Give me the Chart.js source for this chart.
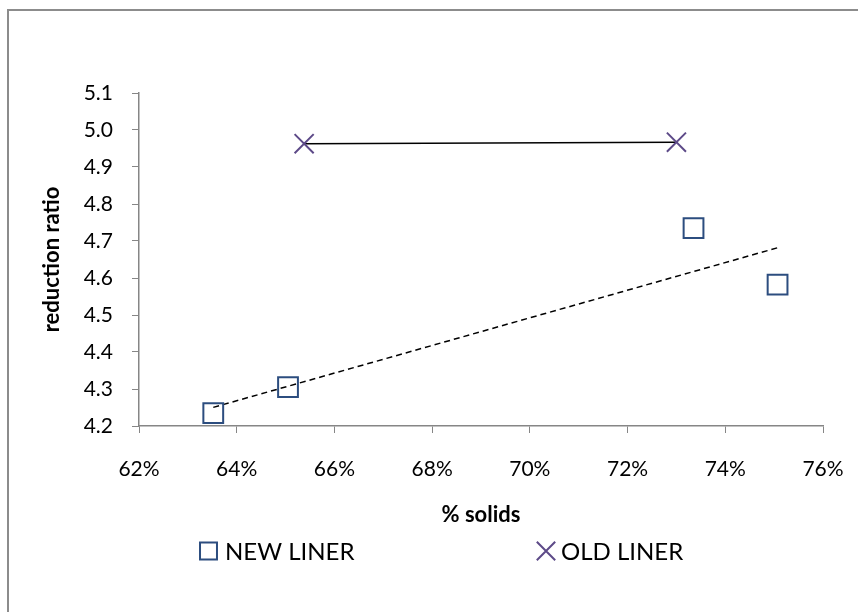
<!DOCTYPE html>
<html>
<head>
<meta charset="utf-8">
<script src="https://cdn.jsdelivr.net/npm/chart.js@4.4.0/dist/chart.umd.min.js"></script>
<style>
    body { margin: 0; background: #fff; }
    .wrap { position: relative; width: 858px; height: 612px; overflow: hidden; }
    .frame { position: absolute; left: 7px; top: 9px; width: 900px; height: 700px; border-top: 2px solid #8c8c8c; border-left: 2px solid #8c8c8c; }
    canvas { position: absolute; left: 0; top: 0; }
</style>
</head>
<body>
<div class="wrap">
    <div class="frame"></div>
    <canvas id="chart" width="858" height="612"></canvas>
</div>
<script>
// % solids / reduction ratio
const newLinerX = [63.52, 65.05, 73.35, 75.07];
const newLinerY = [4.235, 4.305, 4.735, 4.582];
const oldLinerX = [65.38, 73.0];
const oldLinerY = [4.963, 4.967];
const xTicks = [62, 64, 66, 68, 70, 72, 74, 76];
const yTicks = [4.2, 4.3, 4.4, 4.5, 4.6, 4.7, 4.8, 4.9, 5.0, 5.1];

// least squares trendline for the new liner (like Excel's linear trendline)
function linearFit(xs, ys) {
    const n = xs.length;
    const mx = xs.reduce((a, b) => a + b, 0) / n;
    const my = ys.reduce((a, b) => a + b, 0) / n;
    let sxy = 0, sxx = 0;
    xs.forEach((x, i) => { sxy += (x - mx) * (ys[i] - my); sxx += (x - mx) * (x - mx); });
    const slope = sxy / sxx;
    return { slope, intercept: my - slope * mx };
}
const fit = linearFit(newLinerX, newLinerY);
const trendX = [Math.min(...newLinerX), Math.max(...newLinerX)];

const toPoints = (xs, ys) => xs.map((x, i) => ({ x, y: ys[i] }));

const fontFamily = 'Lato, "Open Sans", sans-serif';
Chart.defaults.font.family = fontFamily;
Chart.defaults.color = '#000';

const axisGray = '#868686';

// legend drawn under the axis title, with Excel's wide gap between the two entries
const seriesLegend = {
    id: 'seriesLegend',
    afterDraw(chart, args, opts) {
        const ctx = chart.ctx;
        ctx.save();
        ctx.font = opts.fontSize + 'px ' + fontFamily;
        ctx.textBaseline = 'middle';
        opts.markerX.forEach((mx, k) => {
            const ds = chart.data.datasets[k];
            ctx.strokeStyle = ds.pointBorderColor;
            ctx.fillStyle = 'rgba(255,255,255,0)';
            ctx.lineWidth = 2;
            Chart.helpers.drawPoint(ctx, {
                pointStyle: ds.pointStyle,
                radius: ds.pointStyle === 'rect' ? 12 : 13,
                borderWidth: 2,
                rotation: 0
            }, mx, opts.y);
            ctx.fillStyle = '#000';
            ctx.fillText(ds.label, opts.textX[k], opts.y + 1);
        });
        ctx.restore();
    }
};

new Chart(document.getElementById('chart'), {
    type: 'scatter',
    plugins: [seriesLegend],
    data: {
        datasets: [{
            label: 'NEW LINER',
            data: toPoints(newLinerX, newLinerY),
            pointStyle: 'rect',
            pointRadius: 14,
            pointBorderWidth: 2,
            pointBorderColor: '#2C4D7F',
            pointBackgroundColor: 'rgba(255,255,255,0)',
            showLine: false
        }, {
            label: 'OLD LINER',
            data: toPoints(oldLinerX, oldLinerY),
            pointStyle: 'crossRot',
            pointRadius: 13.5,
            pointBorderWidth: 2,
            pointBorderColor: '#5D4A88',
            borderColor: '#000',
            borderWidth: 1.5,
            showLine: true
        }, {
            label: 'trend',
            data: toPoints(trendX, trendX.map(x => fit.intercept + fit.slope * x)),
            borderColor: '#000',
            borderWidth: 1.5,
            borderDash: [6, 4],
            pointRadius: 0,
            showLine: true
        }]
    },
    options: {
        responsive: false,
        animation: false,
        events: [],
        layout: { padding: { top: 93, right: 35, bottom: 82, left: 17 } },
        plugins: {
            tooltip: { enabled: false },
            legend: { display: false },
            seriesLegend: { markerX: [208.5, 546], textX: [225, 561], y: 551, fontSize: 24 }
        },
        scales: {
            x: {
                type: 'linear',
                min: xTicks[0],
                max: xTicks[xTicks.length - 1],
                afterBuildTicks: s => { s.ticks = xTicks.map(v => ({ value: v })); },
                afterFit: s => { s.height = 104; s.paddingRight = 0; s.paddingLeft = 0; },
                grid: { drawOnChartArea: false, drawTicks: true, tickLength: 7, color: axisGray },
                border: { color: axisGray, width: 1.5 },
                ticks: { padding: 24, font: { size: 21 }, callback: v => v + '%' },
                title: {
                    display: true,
                    text: '% solids',
                    font: { size: 22, weight: 'bold' },
                    padding: { top: 0, bottom: 2 }
                }
            },
            y: {
                type: 'linear',
                min: yTicks[0],
                max: yTicks[yTicks.length - 1],
                afterBuildTicks: s => { s.ticks = yTicks.map(v => ({ value: v })); },
                afterFit: s => { s.width = 122; },
                grid: { drawOnChartArea: false, drawTicks: true, tickLength: 7, color: axisGray },
                border: { color: axisGray, width: 1.5 },
                ticks: { padding: 19, font: { size: 21 }, callback: v => v.toFixed(1) },
                title: {
                    display: true,
                    text: 'reduction ratio',
                    font: { size: 22, weight: 'bold' },
                    padding: { top: 22, bottom: 0 }
                }
            }
        }
    }
});
</script>
</body>
</html>
